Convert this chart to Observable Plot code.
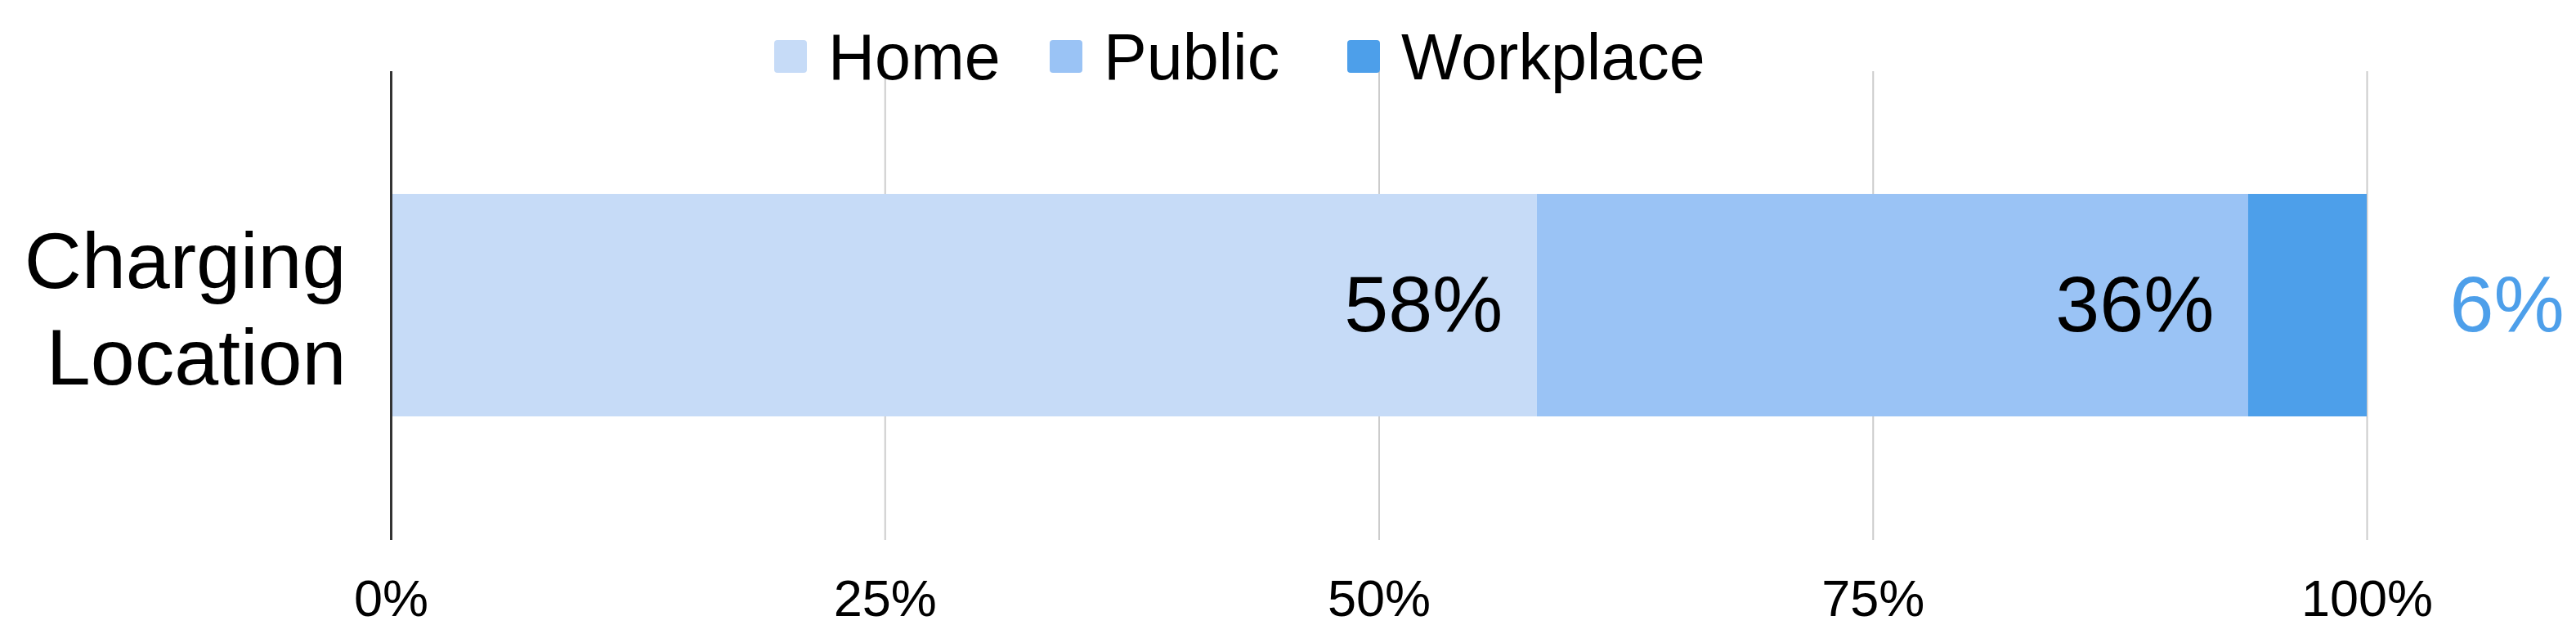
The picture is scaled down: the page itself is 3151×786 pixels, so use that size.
<!DOCTYPE html>
<html>
<head>
<meta charset="utf-8">
<script src="https://cdn.jsdelivr.net/npm/d3@7"></script>
<script src="https://cdn.jsdelivr.net/npm/@observablehq/plot@0.6"></script>
<style>
  html, body { margin: 0; padding: 0; background: #fff; }
  body { width: 3151px; height: 786px; overflow: hidden; font-family: "Liberation Sans", Arial, sans-serif; }
  #legend { position: relative; height: 87px; z-index: 2; }
  .sw { position: absolute; top: 49px; width: 40px; height: 40px; border-radius: 4px; }
  .lt { position: absolute; top: 30px; font-size: 79px; line-height: 79px; color: #000; white-space: nowrap; }
  #chart svg { display: block; }
</style>
</head>
<body>
<div id="legend"></div>
<div id="chart"></div>
<script>
// ---- data ----
const categories = ["Charging Location"];
const series = ["Home", "Public", "Workplace"];
const values = [58, 36, 6];
const valueLabels = ["58%", "36%", "6%"];
const xTicks = [0, 25, 50, 75, 100];
const xTickLabels = ["0%", "25%", "50%", "75%", "100%"];

// ---- styling / layout ----
const palette = ["#c6dbf7", "#9ac3f5", "#4d9fea"];
const legendSwatchLeft = [947, 1284, 1648];
const legendGap = 26;

const rows = series.map((s, i) => ({
  category: categories[0],
  series: s,
  value: values[i],
  label: valueLabels[i],
  end: values.slice(0, i + 1).reduce((a, b) => a + b, 0)
}));

// legend
const legend = document.getElementById("legend");
series.forEach((s, i) => {
  const sw = document.createElement("div");
  sw.className = "sw";
  sw.style.left = legendSwatchLeft[i] + "px";
  sw.style.background = palette[i];
  legend.appendChild(sw);
  const t = document.createElement("div");
  t.className = "lt";
  t.style.left = (legendSwatchLeft[i] + 40 + legendGap) + "px";
  t.textContent = s;
  legend.appendChild(t);
});

const chart = Plot.plot({
  width: 3151,
  height: 699,
  marginTop: 0,
  marginBottom: 126,
  marginLeft: 478,
  marginRight: 256,
  style: { fontFamily: "Liberation Sans, Arial, sans-serif", color: "#000", background: "#fff", overflow: "visible" },
  x: { domain: [0, 100] },
  y: { domain: categories, padding: 0.355 },
  color: { domain: series, range: palette },
  marks: [
    Plot.ruleX(xTicks.slice(1), { stroke: "#cccccc", strokeWidth: 2 }),
    Plot.barX(rows, { x: "value", y: "category", fill: "series", order: null }),
    Plot.ruleX([0], { stroke: "#333333", strokeWidth: 3 }),
    Plot.text(rows.filter(d => d.series !== "Workplace"), {
      x: "end", y: "category", text: "label", textAnchor: "end", dx: -42,
      fontSize: 97, fill: "#000"
    }),
    Plot.text(rows.filter(d => d.series === "Workplace"), {
      x: "end", y: "category", text: "label", textAnchor: "start", dx: 101,
      fontSize: 97, fill: palette[2]
    }),
    Plot.axisX({
      ticks: xTicks,
      tickFormat: d => xTickLabels[xTicks.indexOf(d)],
      tickSize: 0, tickPadding: 48, fontSize: 63, label: null
    }),
    Plot.axisY({
      tickSize: 0, tickPadding: 55, fontSize: 97, lineHeight: 1.216,
      tickFormat: d => d.replace(" ", "\n"), label: null
    })
  ]
});
document.getElementById("chart").appendChild(chart);
</script>
</body>
</html>
